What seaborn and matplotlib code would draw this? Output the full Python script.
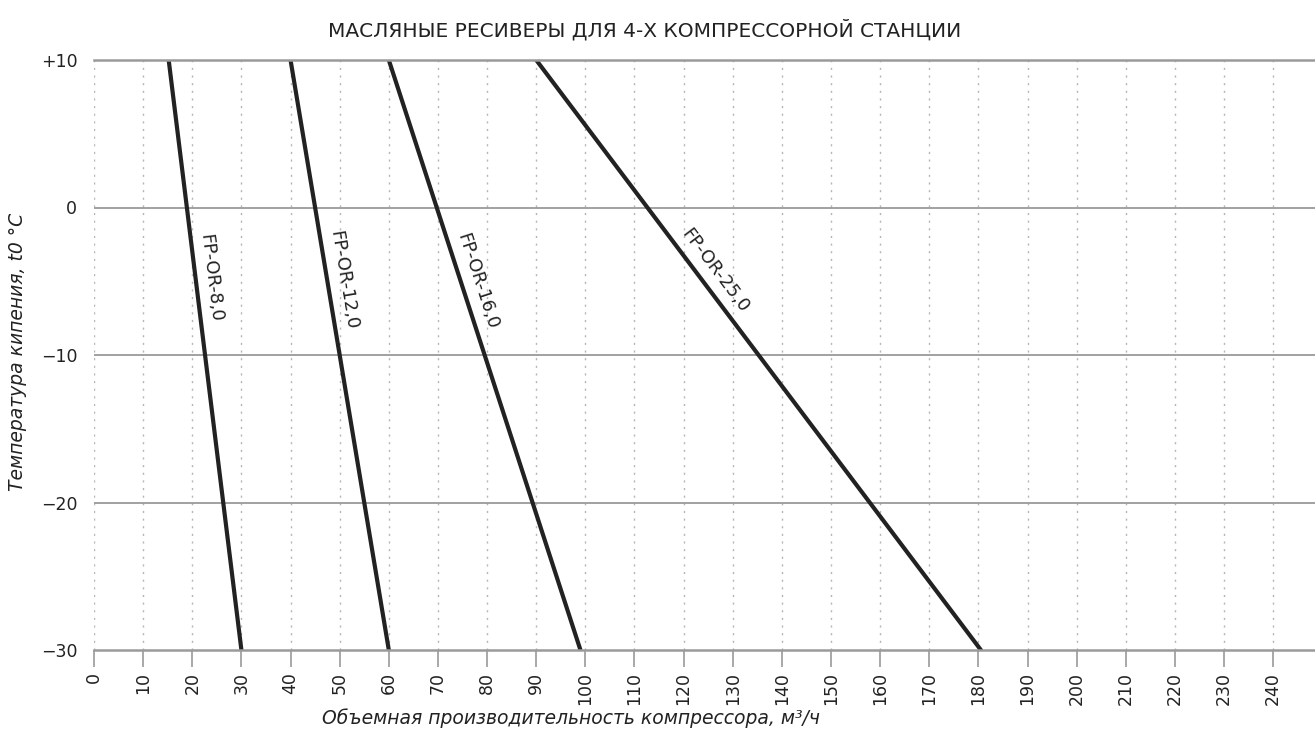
import math
import matplotlib
matplotlib.use("Agg")
import matplotlib.pyplot as plt
from matplotlib import font_manager
import seaborn as sns
import pandas as pd

# ---- data ----
models = ["FP-OR-8,0", "FP-OR-12,0", "FP-OR-16,0", "FP-OR-25,0"]
temps = [10, -30]
flow_top = [15.2, 40, 60, 90]      # m3/h at +10 °C
flow_bottom = [30, 60, 99, 180.5]  # m3/h at -30 °C
x_ticks = list(range(0, 250, 10))
y_ticks = [10, 0, -10, -20, -30]
y_tick_labels = ["+10", "0", "\u221210", "\u221220", "\u221230"]
title = "МАСЛЯНЫЕ РЕСИВЕРЫ ДЛЯ 4-Х КОМПРЕССОРНОЙ СТАНЦИИ"
xlabel = "Объемная производительность компрессора, м³/ч"
ylabel = "Температура кипения, t0 °C"

rows = []
for m, a, b in zip(models, flow_top, flow_bottom):
    rows.append({"model": m, "flow": a, "temp": temps[0]})
    rows.append({"model": m, "flow": b, "temp": temps[1]})
df = pd.DataFrame(rows)

sns.set_theme(style="white")
plt.rcParams["font.family"] = ["DejaVu Sans"]

fig = plt.figure(figsize=(13.15, 7.35), dpi=100)
ax = fig.add_axes([94 / 1315, 1 - 650 / 735, 1 - 94 / 1315, (650 - 60) / 735])

grid_c = "#9a9a9a"
for xv in x_ticks:
    ax.axvline(xv, color="#b5b5b5", lw=1, ls=(0, (1.5, 4)), zorder=0)
for yv in [0, -10, -20]:
    ax.axhline(yv, color=grid_c, lw=1.3, zorder=0)

sns.lineplot(data=df, x="flow", y="temp", units="model", estimator=None,
             color="#222222", lw=3, ax=ax, sort=False, legend=False)

ax.set_xlim(0, 248.5)
ax.set_ylim(-30, 10)
ax.set_xticks(x_ticks)
ax.set_xticklabels([str(v) for v in x_ticks], rotation=90, fontsize=12.5)
ax.set_yticks(y_ticks)
ax.set_yticklabels(y_tick_labels, fontsize=12.5)
ax.tick_params(axis="x", length=12, width=1.2, color=grid_c, pad=4, bottom=True,
               labelcolor="#222222")
ax.tick_params(axis="y", length=0, pad=12, labelcolor="#222222")
for s in ["left", "right"]:
    ax.spines[s].set_visible(False)
for s in ["top", "bottom"]:
    ax.spines[s].set_color(grid_c)
    ax.spines[s].set_linewidth(1.8)

ax.set_xlabel("")
ax.set_ylabel("")

# line labels along the lines (centre positions, data units)
label_pos = [(23.8, -4.8), (50.7, -4.9), (78.0, -5.0), (126.3, -4.3)]
for m, a, b, (lx, ly) in zip(models, flow_top, flow_bottom, label_pos):
    p1 = ax.transData.transform((a, 10))
    p2 = ax.transData.transform((b, -30))
    ang = math.degrees(math.atan2(p2[1] - p1[1], p2[0] - p1[0]))
    ax.text(lx, ly, m, rotation=ang, rotation_mode="anchor", ha="center", va="center",
            fontsize=13, color="#222222")

fig.text(645 / 1315, 1 - 30 / 735, title, ha="center", va="center", fontsize=14.5,
         color="#222222")
fig.text(571 / 1315, 1 - 718 / 735, xlabel, ha="center", va="center", fontsize=13.5,
         style="italic", color="#222222")
fig.text(18 / 1315, 1 - 352 / 735, ylabel, ha="center", va="center", fontsize=13.5,
         style="italic", rotation=90, color="#222222")

fig.savefig("out.png", dpi=100)
